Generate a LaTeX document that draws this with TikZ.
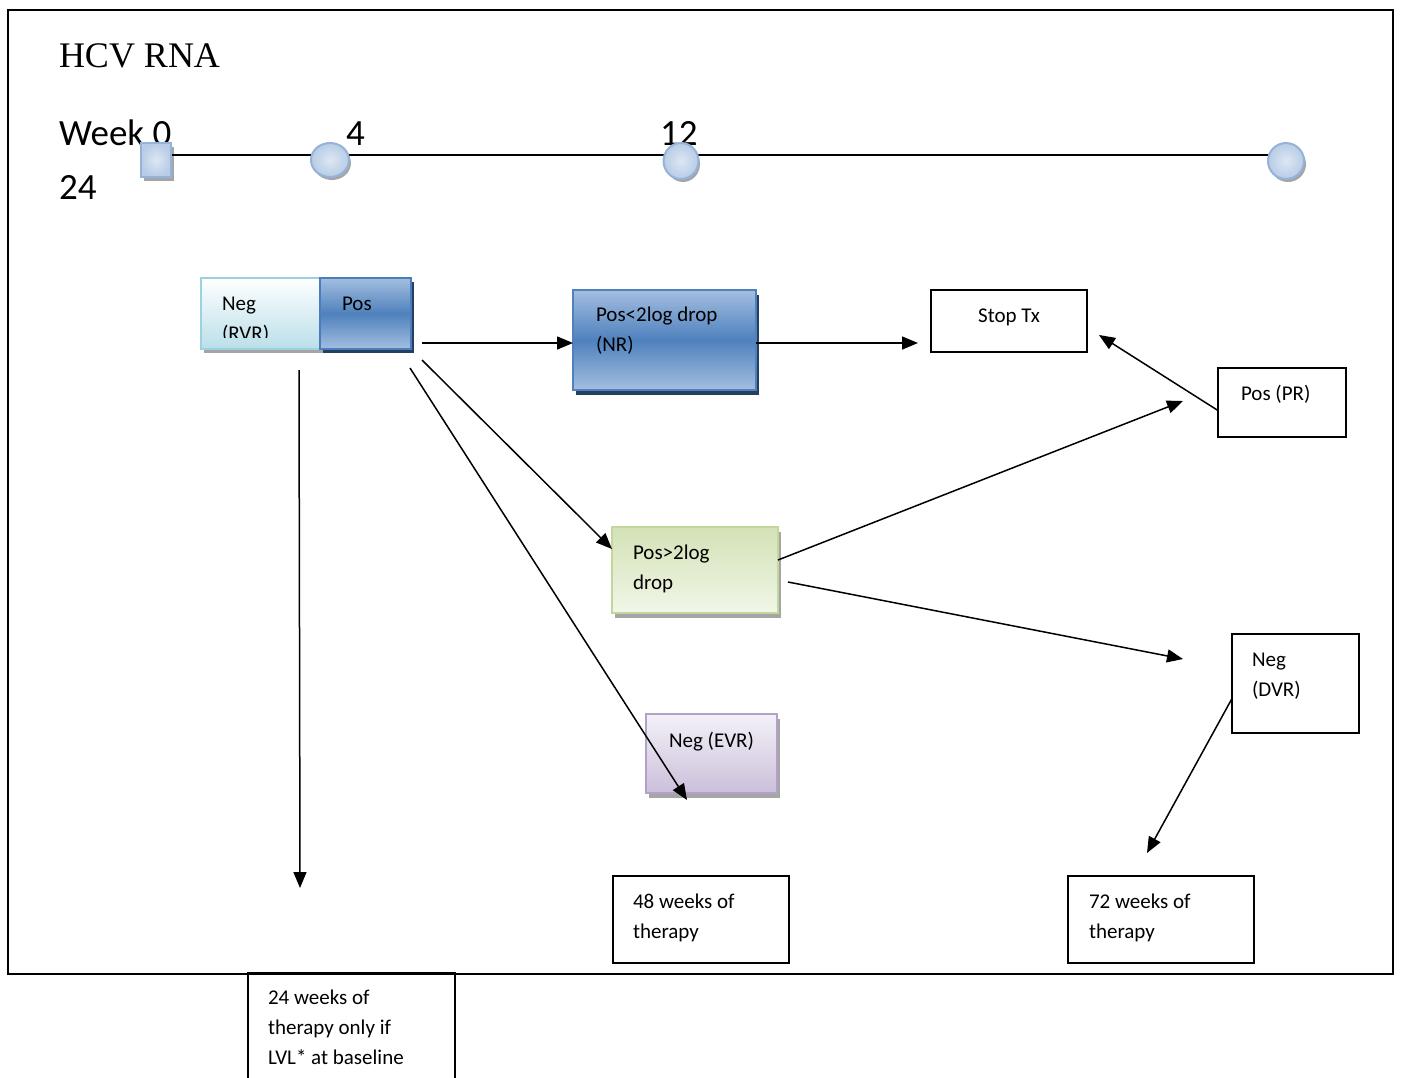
\documentclass[tikz,border=0pt]{standalone}
\usepackage{fontspec}
\setmainfont{Carlito}
\newfontfamily\serifhead{Liberation Serif}
\usetikzlibrary{arrows.meta,backgrounds,shapes.geometric}

\definecolor{rvrtop}{HTML}{FFFFFF}
\definecolor{rvrbot}{HTML}{B9DFE9}
\definecolor{rvrline}{HTML}{9CD1E0}
\definecolor{bluemid}{HTML}{4F81BD}
\definecolor{bluelight}{HTML}{A3BEE0}
\definecolor{blueline}{HTML}{4A7DBB}
\definecolor{navyshade}{HTML}{243F60}
\definecolor{greentop}{HTML}{D3E2B6}
\definecolor{greenbot}{HTML}{F1F6E8}
\definecolor{greenline}{HTML}{C3D69B}
\definecolor{purptop}{HTML}{F4F1F8}
\definecolor{purpbot}{HTML}{CBBFDA}
\definecolor{purpline}{HTML}{B3A2C7}
\definecolor{markin}{HTML}{DDE7F3}
\definecolor{markout}{HTML}{B7CCE6}
\definecolor{markline}{HTML}{95B3D7}
\definecolor{hatchgrey}{HTML}{A5A5A5}

\newcommand\boxlines[1]{\begin{tabular}[t]{@{}l@{}}#1\end{tabular}}

\begin{document}
\begin{tikzpicture}[x=1pt,y=-1pt,
  every node/.style={inner sep=0pt,outer sep=0pt},
  bodytext/.style={anchor=base west,font=\fontsize{21}{30}\selectfont},
  weektext/.style={anchor=base west,font=\fontsize{37}{40}\selectfont},
  plainbox/.style={draw=black,line width=1.8pt,anchor=north west},
  marker/.style={draw=markline,line width=2pt,inner color=markin,outer color=markout},
  arr/.style={line width=1.5pt,-{Triangle[length=16pt,width=13pt]}},
  tline/.style={line width=2.2pt},
  softshadow/.style={fill=hatchgrey},
  darkshadow/.style={fill=navyshade}]
\useasboundingbox (0,0) rectangle (1401,1077);

% outer frame
\node[plainbox,minimum width=1385,minimum height=964] (frame) at (8,10) {};

% heading and week labels
\node[anchor=base west,font=\serifhead\fontsize{36}{40}\selectfont] (title) at (59,67) {HCV RNA};
\node[weektext] (wk0) at (59,145) {Week 0};
\node[weektext] (wk24) at (59,199) {24};
\node[weektext] (wk4) at (346,145) {4};
\node[weektext] (wk12) at (660,145) {12};

% timeline markers
\node[marker,rectangle,minimum width=30,minimum height=34] (sq) at (156,160) {};
\node[marker,ellipse,minimum width=38,minimum height=34] (e1) at (330,160) {};
\node[marker,ellipse,minimum width=35,minimum height=36] (e2) at (681,161) {};
\node[marker,ellipse,minimum width=36,minimum height=36] (e3) at (1286,161) {};

% week 4 result boxes
\node[draw=rvrline,line width=2.5pt,anchor=north west,top color=rvrtop,bottom color=rvrbot,
      minimum width=119,minimum height=71] (rvr) at (201,278) {};
\node[draw=blueline,line width=2.5pt,anchor=north west,top color=bluelight,bottom color=bluelight,middle color=bluemid,
      minimum width=91,minimum height=71] (pos) at (320,278) {};
\begin{scope}
  \clip (201,278) rectangle (320,337);
  \node[bodytext] (rvrtxt) at (222,310) {\boxlines{Neg\\(RVR)}};
\end{scope}
\node[bodytext] (postxt) at (342,310) {Pos};

% week 12 result boxes
\node[draw=bluemid,line width=2pt,anchor=north west,top color=bluelight,bottom color=bluelight,middle color=bluemid,
      minimum width=183,minimum height=100] (nr) at (573,290) {};
\node[bodytext] (nrtxt) at (596,321) {\boxlines{Pos<2log drop\\(NR)}};

\node[draw=greenline,line width=2pt,anchor=north west,top color=greentop,bottom color=greenbot,
      minimum width=166,minimum height=86] (green) at (612,527) {};
\node[bodytext] (greentxt) at (633,559) {\boxlines{Pos>2log\\drop}};

\node[draw=purpline,line width=2pt,anchor=north west,top color=purptop,bottom color=purpbot,
      minimum width=131,minimum height=79] (evr) at (646,714) {};
\node[bodytext] (evrtxt) at (669,747) {Neg (EVR)};

% outcome boxes
\node[plainbox,minimum width=156,minimum height=62] (stop) at (931,290) {};
\node[bodytext,anchor=base] (stoptxt) at (1009,322) {Stop Tx};

\node[plainbox,minimum width=128,minimum height=69] (pr) at (1218,368) {};
\node[bodytext] (prtxt) at (1241,400) {Pos (PR)};

\node[plainbox,minimum width=127,minimum height=99] (dvr) at (1232,634) {};
\node[bodytext] (dvrtxt) at (1252,666) {\boxlines{Neg\\(DVR)}};

\node[plainbox,minimum width=176,minimum height=87] (w48) at (613,876) {};
\node[bodytext] (w48txt) at (633,908) {\boxlines{48 weeks of\\therapy}};

\node[plainbox,minimum width=186,minimum height=87] (w72) at (1068,876) {};
\node[bodytext] (w72txt) at (1089,908) {\boxlines{72 weeks of\\therapy}};

\node[plainbox,minimum width=207,minimum height=140] (w24) at (248,973) {};
\node[bodytext] (w24txt) at (268,1004) {\boxlines{24 weeks of\\therapy only if\\LVL* at baseline}};

% shadows and timeline behind the shapes
\begin{scope}[on background layer]
  \fill[softshadow] ([shift={(3,4)}]sq.north west) rectangle ([shift={(3,4)}]sq.south east);
  \fill[softshadow] ([shift={(2,3)}]e1.center) ellipse [x radius=19,y radius=17];
  \fill[softshadow] ([shift={(2,3)}]e2.center) ellipse [x radius=17,y radius=18];
  \fill[softshadow] ([shift={(2,3)}]e3.center) ellipse [x radius=18,y radius=18];
  \fill[softshadow] ([shift={(3,4)}]rvr.north west) rectangle ([shift={(3,4)}]rvr.south east);
  \fill[darkshadow] ([shift={(3,4)}]pos.north west) rectangle ([shift={(3,4)}]pos.south east);
  \fill[darkshadow] ([shift={(3,5)}]nr.north west) rectangle ([shift={(3,5)}]nr.south east);
  \fill[softshadow] ([shift={(3,5)}]green.north west) rectangle ([shift={(3,5)}]green.south east);
  \fill[softshadow] ([shift={(3,5)}]evr.north west) rectangle ([shift={(3,5)}]evr.south east);
  \draw[tline] ([yshift=5pt]sq.center) -- ([yshift=5pt]e1.center);
  \draw[tline] ([yshift=5pt]e1.center) -- ([yshift=6pt]e2.center);
  \draw[tline] ([yshift=6pt]e2.center) -- ([yshift=6pt]e3.center);
\end{scope}

% free ends of the connectors
\coordinate (fromposA) at (422,343);
\coordinate (fromposB) at (422,360);
\coordinate (fromposC) at (410,368);
\coordinate (fromrvr) at (299,370);
\coordinate (tostop) at (918,343);
\coordinate (toprA) at (1099,335);
\coordinate (toprB) at (1183,401);
\coordinate (fromgreen) at (788,582);
\coordinate (todvr) at (1183,659);
\coordinate (to72) at (1147,853);
\coordinate (toevr) at (687,800);
\coordinate (to24) at (300,888);

% connectors
\draw[arr] (fromposA) -- (fromposA -| nr.west);
\draw[arr] (tostop -| nr.east) -- (tostop);
\draw[arr] ([yshift=-8pt]pr.west) -- (toprA);
\draw[arr] ([yshift=10pt]green.east) -- (toprB);
\draw[arr] (fromgreen) -- (todvr);
\draw[arr] ([yshift=-15pt]dvr.west) -- (to72);
\draw[arr] (fromposB) -- ([yshift=21pt]green.west);
\draw[arr] (fromposC) -- (toevr);
\draw[arr] (fromrvr) -- (to24);
\end{tikzpicture}
\end{document}
